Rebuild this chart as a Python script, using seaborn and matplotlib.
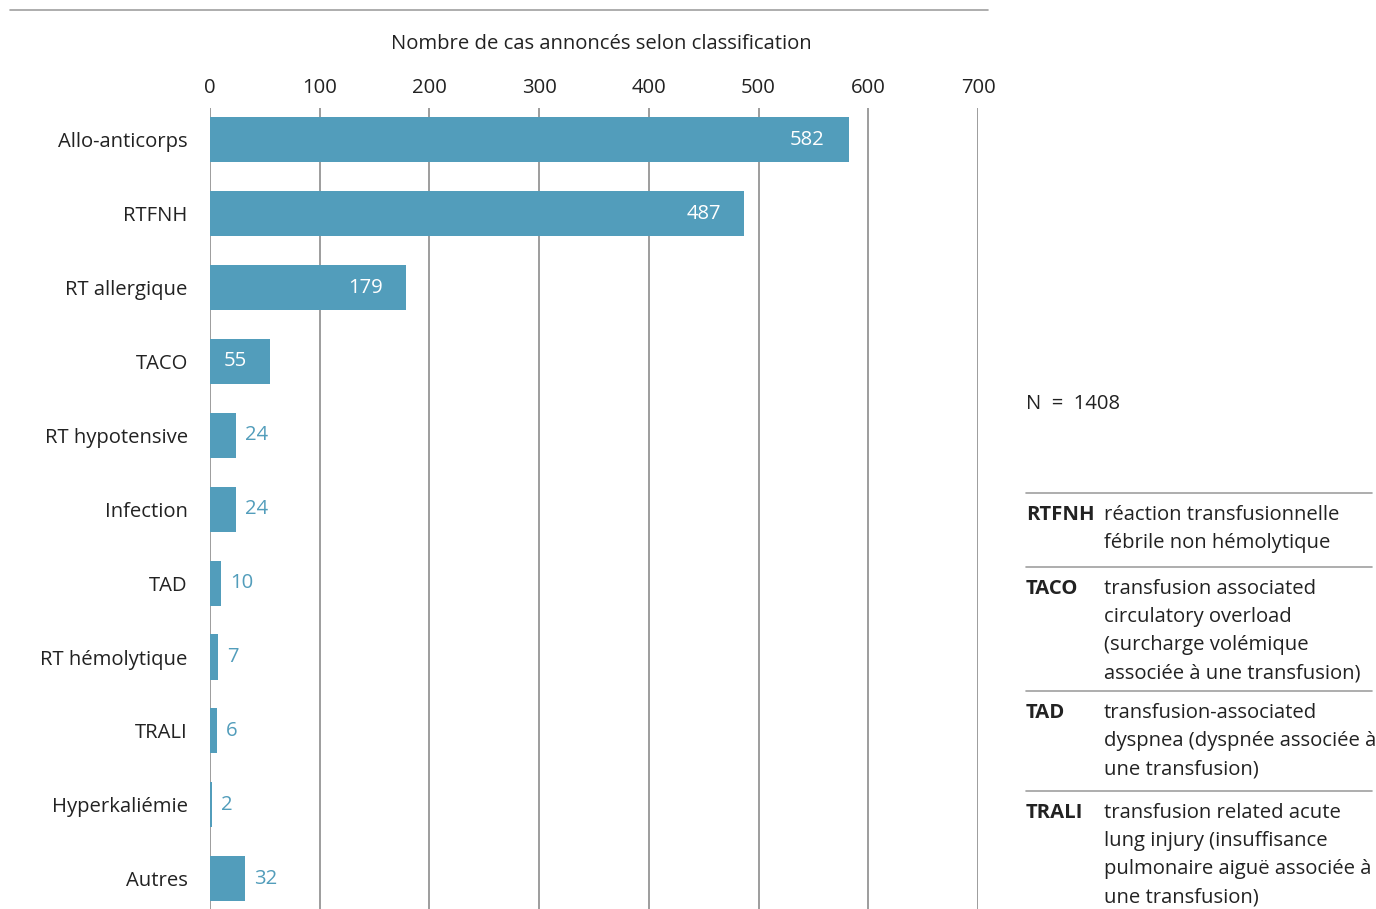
import matplotlib
matplotlib.use('Agg')
import matplotlib.pyplot as plt
import pandas as pd
import seaborn as sns

# ------------------------------------------------------------
#     Data
# ------------------------------------------------------------

categories = [
    "Allo-anticorps", "RTFNH", "RT allergique", "TACO", "RT hypotensive",
    "Infection", "TAD", "RT hémolytique", "TRALI", "Hyperkaliémie", "Autres",
]
counts = [582, 487, 179, 55, 24, 24, 10, 7, 6, 2, 32]
xticks = [0, 100, 200, 300, 400, 500, 600, 700]

legend_abbr = ["RTFNH", "TACO", "TAD", "TRALI"]
legend_desc = [
    ["réaction transfusionnelle", "fébrile non hémolytique"],
    ["transfusion associated", "circulatory overload", "(surcharge volémique",
     "associée à une transfusion)"],
    ["transfusion-associated", "dyspnea (dyspnée associée à", "une transfusion)"],
    ["transfusion related acute", "lung injury (insuffisance",
     "pulmonaire aiguë associée à", "une transfusion)"],
]

# ------------------------------------------------------------
#     Style
# ------------------------------------------------------------

bar_color = "#529dbb"
grid_color = "#8c8c8c"
text_color = "#222222"
fs = 14.6

sns.set_style("white")
plt.rcParams['font.family'] = ['Open Sans', 'DejaVu Sans']

W, H = 1376, 909
fig = plt.figure(figsize=(W / 100, H / 100), dpi=100)

# axes placed in pixel coordinates
ax_left, ax_right, ax_top, ax_bottom = 210, 978, 108, 909
ax = fig.add_axes([ax_left / W, 1 - ax_bottom / H,
                   (ax_right - ax_left) / W, (ax_bottom - ax_top) / H])

# gridlines first so the bars sit on top of them
for x in xticks:
    ax.axvline(x, color=grid_color, lw=1.2, zorder=1)

df = pd.DataFrame({"cat": categories, "n": counts})
sns.barplot(data=df, x="n", y="cat", color=bar_color, width=0.61,
            saturation=1, linewidth=0, edgecolor="none", ax=ax)
for p in ax.patches:
    p.set_zorder(3)

ax.set_xlim(0, 700)
ax.set_ylim(len(categories) - 1 + 0.41, -0.43)
ax.set_xticks(xticks)
ax.xaxis.tick_top()
ax.tick_params(axis='x', length=0, pad=7, labelsize=fs, colors=text_color)
ax.tick_params(axis='y', length=0, pad=16, labelsize=fs, colors=text_color)
ax.set_xlabel("")
ax.set_ylabel("")
for s in ax.spines.values():
    s.set_visible(False)

# value labels
for i, v in enumerate(counts):
    if v > 50:
        ax.annotate(str(v), (v, i), xytext=(-17, 0), textcoords='offset points',
                    ha='right', va='center', color='white', fontsize=fs, zorder=4)
    else:
        ax.annotate(str(v), (v, i), xytext=(6.5, 0), textcoords='offset points',
                    ha='left', va='center', color=bar_color, fontsize=fs, zorder=4)

# top rule and axis title
fig.add_artist(plt.Line2D([10 / W, 988 / W], [1 - 10 / H, 1 - 10 / H],
                          color="#a0a0a0", lw=1.2))
fig.text(601 / W, 1 - 44 / H, "Nombre de cas annoncés selon classification",
         ha='center', va='center', fontsize=fs, color=text_color)

# N and abbreviation legend
fig.text(1026 / W, 1 - 404 / H, "N  =  1408", ha='left', va='center',
         fontsize=fs, color=text_color)

rule_y = [493, 567, 691, 791]
line_h = 28
for abbr, desc, ry in zip(legend_abbr, legend_desc, rule_y):
    fig.add_artist(plt.Line2D([1026 / W, 1372 / W], [1 - ry / H, 1 - ry / H],
                              color="#a0a0a0", lw=1.2))
    y0 = ry + 22
    fig.text(1026 / W, 1 - y0 / H, abbr, ha='left', va='center', fontsize=fs,
             fontweight='bold', color=text_color)
    for k, line in enumerate(desc):
        fig.text(1104 / W, 1 - (y0 + k * line_h) / H, line, ha='left',
                 va='center', fontsize=fs, color=text_color)

fig.savefig("out.png", dpi=100)
